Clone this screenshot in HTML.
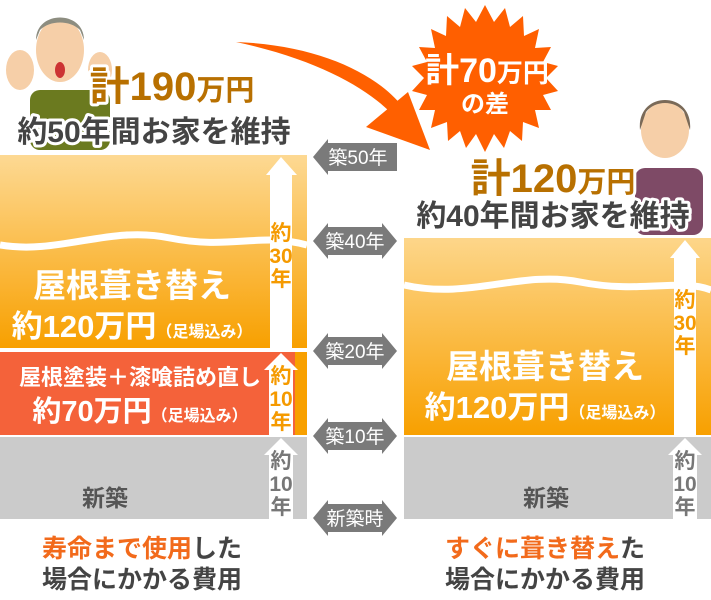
<!DOCTYPE html>
<html><head><meta charset="utf-8"><style>
body{margin:0;background:#fff}
svg{display:block}
text{font-family:"Liberation Sans","Noto Sans CJK JP",sans-serif;font-weight:bold}
</style></head><body>
<svg width="711" height="600" viewBox="0 0 711 600" xmlns="http://www.w3.org/2000/svg">
<defs>
<linearGradient id="og" x1="0" y1="0" x2="0" y2="1"><stop offset="0" stop-color="#fdd993"/><stop offset="1" stop-color="#f8a000"/></linearGradient>
<linearGradient id="og2" x1="0" y1="0" x2="0" y2="1"><stop offset="0" stop-color="#fdd68a"/><stop offset="1" stop-color="#f8a000"/></linearGradient>
</defs>
<rect x="0" y="155" width="307" height="193" fill="url(#og)"/>
<path d="M0 245 C60 255 110 225 170 238 C230 250 260 232 307 245" stroke="#fff" stroke-width="7" fill="none"/>
<rect x="0" y="352" width="297" height="83" fill="#f4623a"/>
<rect x="0" y="437" width="307" height="82" fill="#cbcbcb"/>
<rect x="295" y="352" width="12" height="83" fill="#f8a000"/>
<polygon points="266,175 281,157 297,175 292,175 292,348 270,348 270,175" fill="#fff"/>
<polygon points="264,370 281,353 298,370 293,370 293,435 269,435 269,370" fill="#fff"/>
<polygon points="264,455 281,438 298,455 293,455 293,519 269,519 269,455" fill="#fff"/>
<g fill="#f59a00" font-size="21" text-anchor="middle">
<text x="281" y="240">約</text><text x="281" y="263">30</text><text x="281" y="286">年</text>
<text x="281" y="383">約</text><text x="281" y="406">10</text><text x="281" y="429">年</text>
</g>
<g fill="#777" font-size="21" text-anchor="middle">
<text x="281" y="468">約</text><text x="281" y="491">10</text><text x="281" y="514">年</text>
</g>
<rect x="404" y="238" width="307" height="197" fill="url(#og2)"/>
<path d="M404 285 C470 300 520 270 580 282 C640 294 680 278 711 290" stroke="#fff" stroke-width="7" fill="none"/>
<rect x="404" y="437" width="307" height="82" fill="#cbcbcb"/>
<polygon points="670,258 685,240 700,258 696,258 696,435 674,435 674,258" fill="#fff"/>
<polygon points="668,455 685,438 702,455 697,455 697,519 673,519 673,455" fill="#fff"/>
<g fill="#f59a00" font-size="21" text-anchor="middle">
<text x="685" y="307">約</text><text x="685" y="330">30</text><text x="685" y="353">年</text>
</g>
<g fill="#777" font-size="21" text-anchor="middle">
<text x="685" y="468">約</text><text x="685" y="491">10</text><text x="685" y="514">年</text>
</g>
<g fill="#7a7a7a">
<polygon points="313,157 328,139 328,143 397,143 397,171 328,171 328,175"/>
<polygon points="313,241 328,223 328,227 382,227 382,223 397,241 382,259 382,255 328,255 328,259"/>
<polygon points="313,351 328,333 328,337 382,337 382,333 397,351 382,369 382,365 328,365 328,369"/>
<polygon points="313,436 328,418 328,422 382,422 382,418 397,436 382,454 382,450 328,450 328,454"/>
<polygon points="313,518 328,500 328,504 382,504 382,500 397,518 382,536 382,532 328,532 328,536"/>
</g>
<g fill="#fff" font-size="19" text-anchor="middle">
<text x="358" y="164" style="font-weight:normal">築50年</text>
<text x="355" y="248" style="font-weight:normal">築40年</text>
<text x="355" y="358" style="font-weight:normal">築20年</text>
<text x="355" y="443" style="font-weight:normal">築10年</text>
<text x="355" y="525" style="font-weight:normal">新築時</text>
</g>
<g fill="#fff" text-anchor="middle">
<text x="132" y="297" font-size="33">屋根葺き替え</text>
<text x="132" y="337" font-size="31">約120万円<tspan font-size="16">（足場込み）</tspan></text>
<text x="140" y="385" font-size="22">屋根塗装＋漆喰詰め直し</text>
<text x="140" y="421" font-size="29">約70万円<tspan font-size="16">（足場込み）</tspan></text>
<text x="545" y="378" font-size="33">屋根葺き替え</text>
<text x="545" y="418" font-size="31">約120万円<tspan font-size="16">（足場込み）</tspan></text>
</g>
<g fill="#555" text-anchor="middle" font-size="23">
<text x="105" y="506">新築</text><text x="546" y="506">新築</text>
</g>
<g font-size="25" text-anchor="middle">
<text x="142" y="557"><tspan fill="#f26a1b">寿命まで使用</tspan><tspan fill="#444">した</tspan></text>
<text x="142" y="588" fill="#444">場合にかかる費用</text>
<text x="545" y="557"><tspan fill="#f26a1b">すぐに葺き替え</tspan><tspan fill="#444">た</tspan></text>
<text x="545" y="588" fill="#444">場合にかかる費用</text>
</g>
<path d="M236 42 C320 45 380 75 405 110 L395 117 C370 90 320 60 236 42 Z" fill="#ff6000"/>
<polygon points="366,127 408,92 430,150" fill="#ff6000"/>
<polygon fill="#ff5f00" points="485,5 494,22 505,8 510,27 523,16 524,36 539,29 535,48 551,47 543,62 558,66 546,78 558,91 543,95 551,110 535,110 539,128 523,122 522,141 510,131 504,148 494,134 485,152 476,134 466,148 460,131 448,141 447,122 431,128 435,110 419,110 427,95 412,91 424,78 412,66 427,62 419,47 435,48 431,29 446,36 447,16 460,27 465,8 476,22"/>
<g fill="#fff" text-anchor="middle">
<text x="487" y="82" font-size="34">計70<tspan font-size="26">万円</tspan></text>
<text x="485" y="112" font-size="24">の差</text>
</g>
<g>
<rect x="30" y="90" width="80" height="60" rx="10" fill="#6b7a1f"/>
<ellipse cx="60" cy="50" rx="24" ry="32" fill="#f6cfa8"/>
<path d="M36 40 C36 10 84 10 84 40 L80 30 C70 20 50 20 40 30Z" fill="#8d8d80"/>
<ellipse cx="60" cy="70" rx="5" ry="8" fill="#c33"/>
<ellipse cx="20" cy="70" rx="14" ry="20" fill="#f6cfa8"/>
<ellipse cx="100" cy="70" rx="12" ry="18" fill="#f6cfa8"/>
</g>
<g>
<rect x="635" y="168" width="68" height="67" rx="10" fill="#7e4a66"/>
<ellipse cx="665" cy="130" rx="24" ry="28" fill="#f6cfa8"/>
<path d="M640 130 C636 90 694 90 690 130 L684 112 C675 100 655 100 646 112Z" fill="#7a6a58"/>
</g>
<g text-anchor="middle" stroke="#fff" stroke-width="6" paint-order="stroke" stroke-linejoin="round">
<text x="172" y="100" font-size="40" fill="#b87000">計190<tspan font-size="29">万円</tspan></text>
<text x="154" y="142" font-size="30" fill="#444">約50年間お家を維持</text>
<text x="553" y="192" font-size="40" fill="#b87000">計120<tspan font-size="29">万円</tspan></text>
<text x="553" y="226" font-size="30" fill="#444">約40年間お家を維持</text>
</g>
</svg>
</body></html>
